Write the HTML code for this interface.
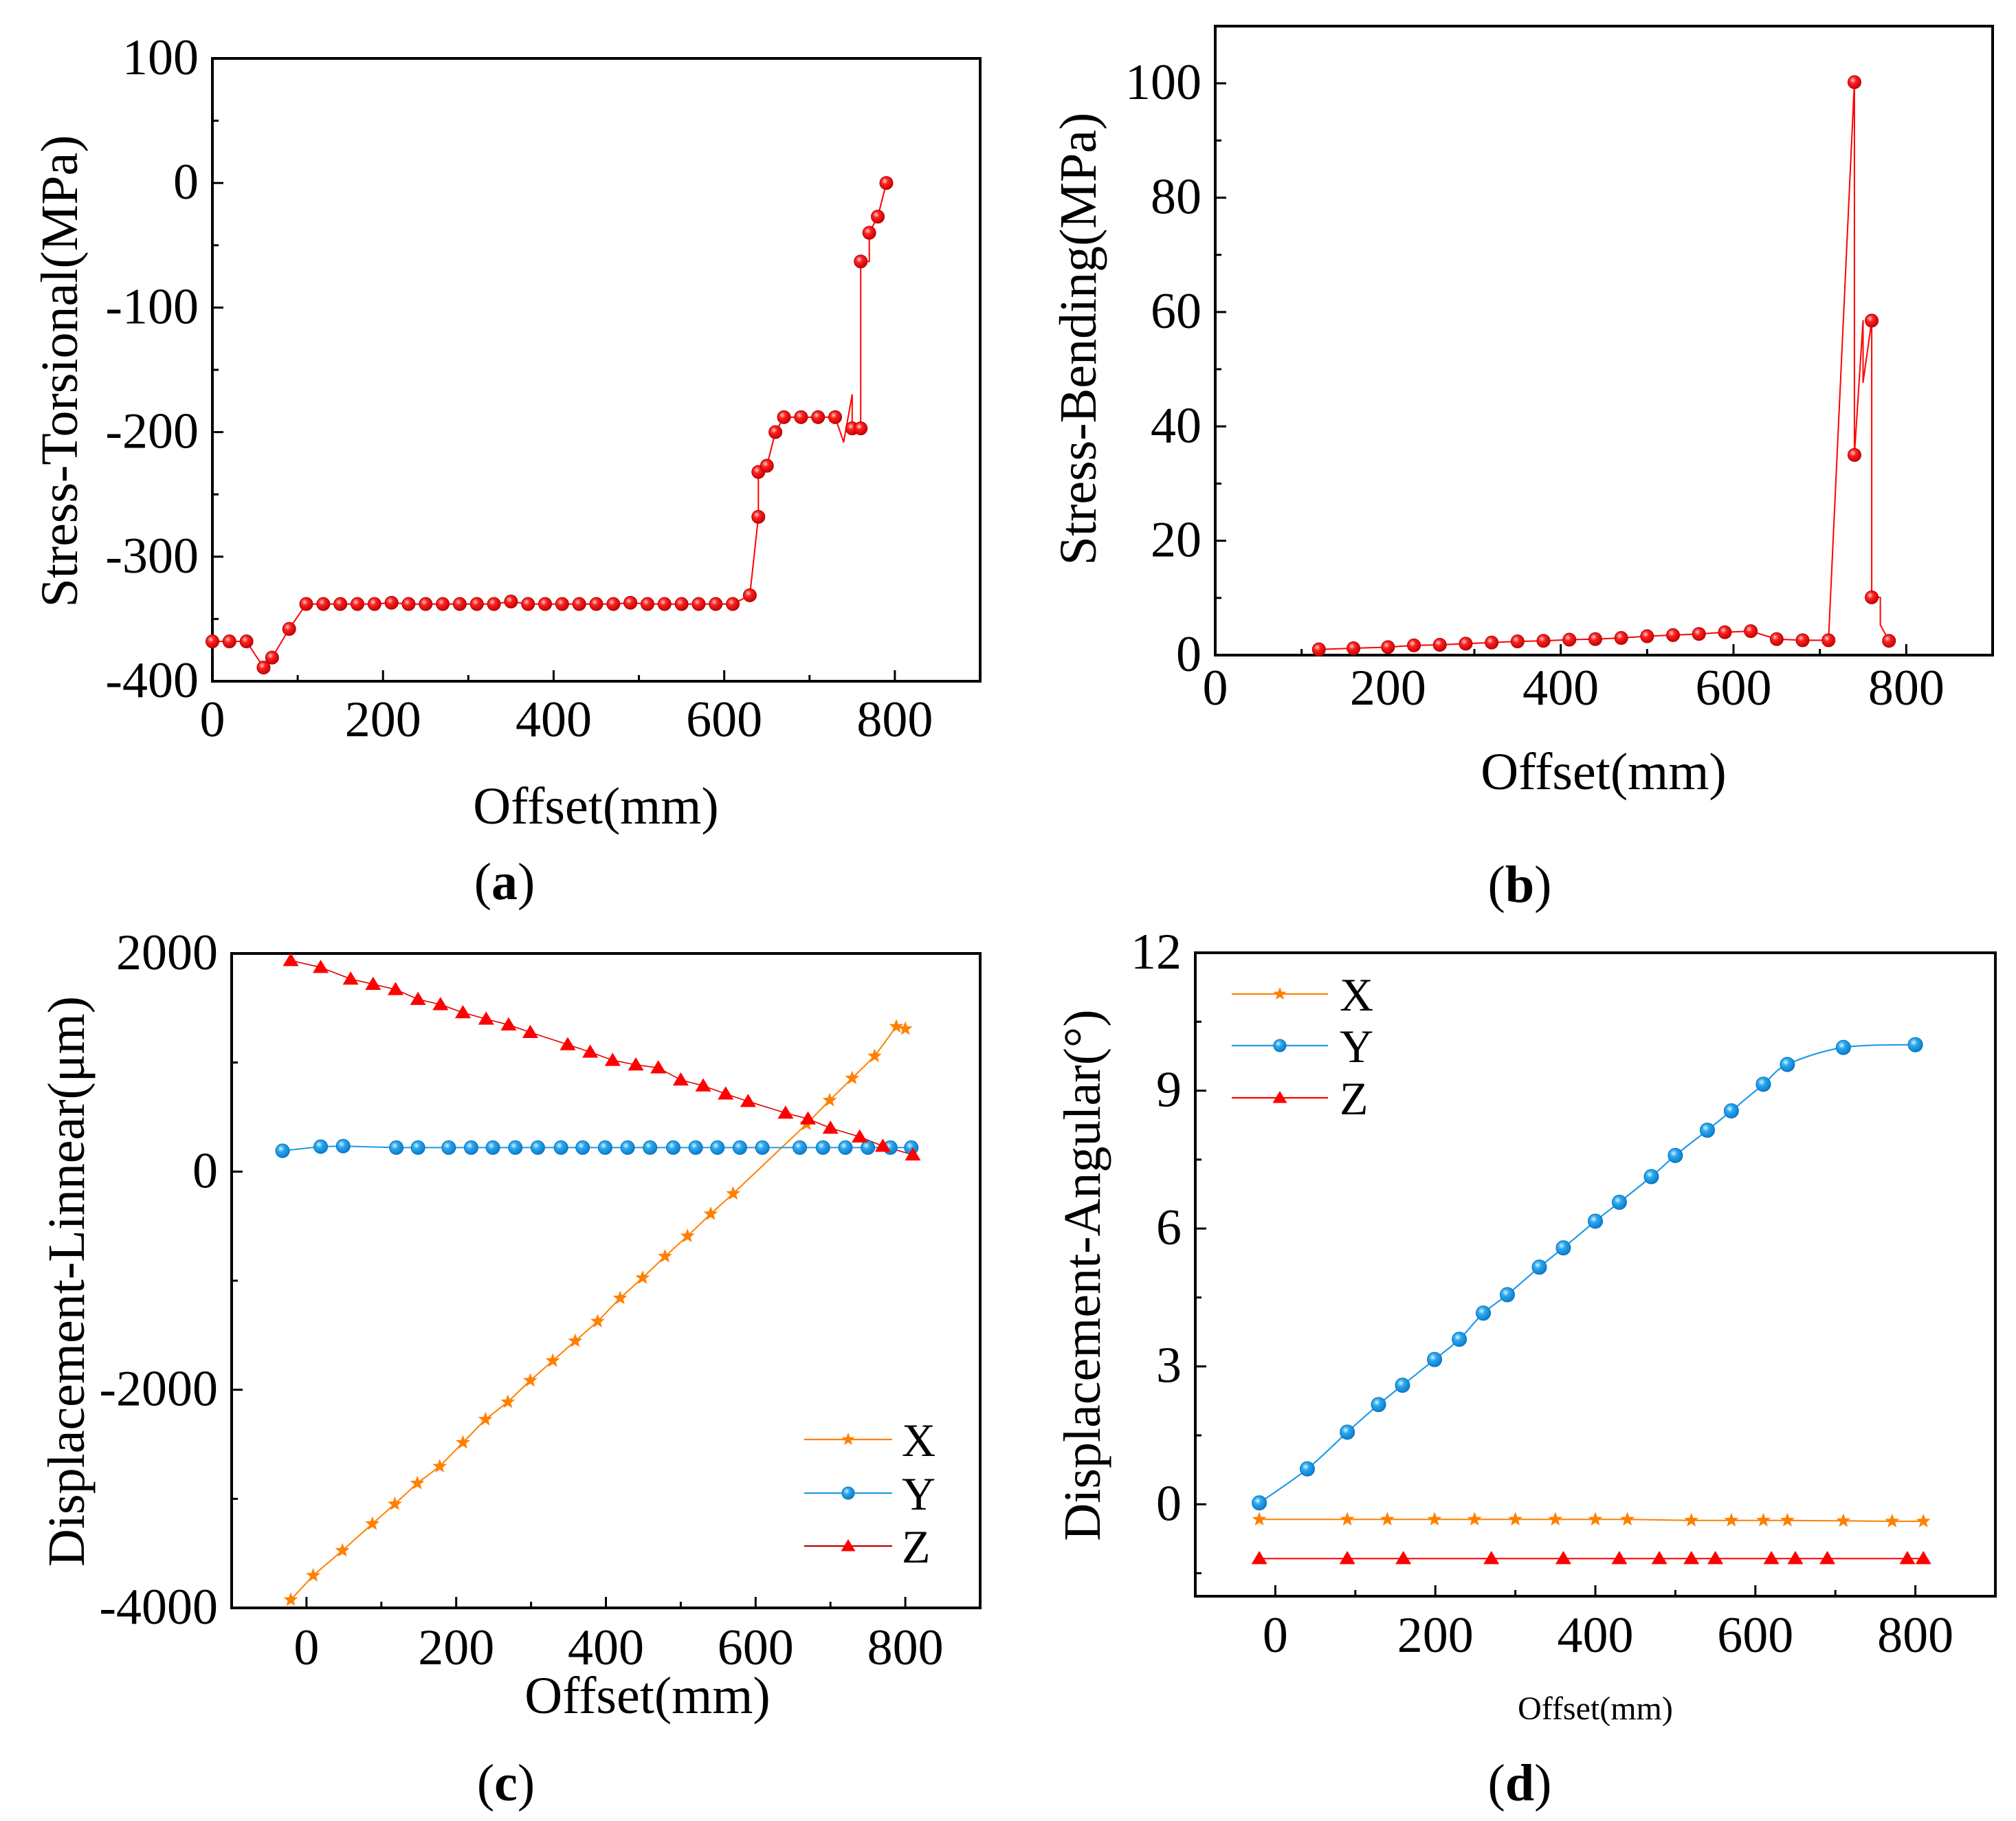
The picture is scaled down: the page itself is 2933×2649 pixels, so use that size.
<!DOCTYPE html>
<html><head><meta charset="utf-8"><style>
html,body{margin:0;padding:0;background:#fff;}
svg{display:block;font-family:"Liberation Serif",serif;}
</style></head><body>
<svg id="fig" width="2933" height="2649" viewBox="0 0 2933 2649" xmlns="http://www.w3.org/2000/svg">
<defs>
<radialGradient id="gRed" cx="0.38" cy="0.35" r="0.7"><stop offset="0" stop-color="#ffd0d0"/><stop offset="0.35" stop-color="#ff2020"/><stop offset="1" stop-color="#c00000"/></radialGradient>
<radialGradient id="gBlue" cx="0.38" cy="0.35" r="0.7"><stop offset="0" stop-color="#d8f2ff"/><stop offset="0.35" stop-color="#29a8f0"/><stop offset="1" stop-color="#0a78c8"/></radialGradient>
</defs>
</svg>
<script>
// ---------- Panel (a) data ----------
const aX = [0,20,40,60,70,90,110,130,150,170,190,210,230,250,270,290,310,330,350,370,390,410,430,450,470,490,510,530,550,570,590,610,630,640,640,650,660,670,690,710,730,740,750,750,760,760,770,770,780,790];
const aY = [-368,-368,-368,-389,-381,-358,-338,-338,-338,-338,-338,-337,-338,-338,-338,-338,-338,-338,-336,-338,-338,-338,-338,-338,-338,-337,-338,-338,-338,-338,-338,-338,-331,-268,-232,-227,-200,-188,-188,-188,-188,-208,-170,-197,-197,-63,-63,-40,-27,0];
const aMark = [1,1,1,1,1,1,1,1,1,1,1,1,1,1,1,1,1,1,1,1,1,1,1,1,1,1,1,1,1,1,1,1,1,1,1,1,1,1,1,1,1,0,0,1,1,1,0,1,1,1];
const aYTicks = [-400,-300,-200,-100,0,100];
const aXTicks = [0,200,400,600,800];
// ---------- Panel (b) data ----------
const bX = [120,160,200,230,260,290,320,350,380,410,440,470,500,530,560,590,620,650,680,710,740,740,750,750,760,760,770,770,780];
const bY = [1.0,1.2,1.4,1.7,1.8,2.0,2.2,2.4,2.5,2.7,2.8,3.0,3.3,3.5,3.7,4.0,4.2,2.8,2.6,2.6,100.2,35,58.5,47.7,58.5,10.1,10.1,5.3,2.5];
const bMark = [1,1,1,1,1,1,1,1,1,1,1,1,1,1,1,1,1,1,1,1,1,1,0,0,1,1,0,0,1];
const bYTicks = [0,20,40,60,80,100];
const bXTicks = [0,200,400,600,800];
// ---------- Panel (c) data ----------
const cXx = [-21,9,48,88,118,148,178,209,239,269,299,329,359,389,419,449,479,509,540,570,668,699,729,759,788,800];
const cXv = [-3926,-3703,-3474,-3229,-3048,-2857,-2703,-2484,-2272,-2112,-1915,-1734,-1553,-1373,-1160,-974,-777,-591,-388,-202,436,654,857,1059,1330,1309];
const cYx = [-32,19,49,120,149,190,220,249,279,309,340,369,399,429,459,490,520,549,579,609,659,690,720,750,780,808];
const cYv = [191,229,234,220,220,220,220,220,220,220,220,220,220,220,220,220,220,220,220,220,220,220,220,220,220,220];
const cZx = [-21,19,59,89,119,149,179,209,240,270,299,349,379,409,440,470,500,530,560,590,640,670,700,739,770,810];
const cZv = [1936,1873,1766,1718,1670,1580,1532,1458,1399,1346,1277,1165,1096,1021,979,952,841,787,713,644,537,484,399,319,234,154];
const cYTicks = [-4000,-2000,0,2000];
const cXTicks = [0,200,400,600,800];
// ---------- Panel (d) data ----------
const dXx = [-20,90,140,199,249,300,350,400,440,520,570,610,640,710,771,810];
const dXv = [-0.33,-0.33,-0.33,-0.33,-0.33,-0.33,-0.33,-0.33,-0.33,-0.35,-0.35,-0.35,-0.35,-0.36,-0.37,-0.37];
const dYx = [-20,40,90,129,159,199,230,260,290,330,360,400,430,470,500,540,570,610,640,710,800];
const dYv = [0.03,0.77,1.57,2.17,2.59,3.15,3.59,4.16,4.56,5.16,5.58,6.16,6.57,7.13,7.59,8.14,8.56,9.14,9.57,9.94,10.0];
const dZx = [-20,90,160,270,360,430,480,520,550,620,650,690,790,810];
const dZv = [-1.18,-1.18,-1.18,-1.18,-1.18,-1.18,-1.18,-1.18,-1.18,-1.18,-1.18,-1.18,-1.18,-1.18];
const dYTicks = [0,3,6,9,12];
const dXTicks = [0,200,400,600,800];

const NS = "http://www.w3.org/2000/svg";
const svg = document.getElementById('fig');
function mk(tag, attrs, parent){
  const e = document.createElementNS(NS, tag);
  for (const k in attrs) e.setAttribute(k, attrs[k]);
  (parent||svg).appendChild(e);
  return e;
}
function scale(d0,d1,r0,r1){ return v => r0 + (v-d0)*(r1-r0)/(d1-d0); }

function axes(P){
  const g = mk('g',{});
  
  
  const sx = scale(P.xd[0],P.xd[1],P.L,P.R), sy = scale(P.yd[0],P.yd[1],P.B,P.T);
  P.yTicks.forEach((v,i)=>{
    const y = sy(v);
    mk('line',{x1:P.L,x2:P.L+16,y1:y,y2:y,stroke:'#000','stroke-width':3},g);
    if (i < P.yTicks.length-1){
      const m = sy(v + (P.yTicks[1]-P.yTicks[0])/2);
      mk('line',{x1:P.L,x2:P.L+9,y1:m,y2:m,stroke:'#000','stroke-width':3},g);
    }
    const t = mk('text',{x:P.L-20,y:y+23,'text-anchor':'end','font-size':P.tfs||74},g);
    t.textContent = String(v);
    
    
  });
  if (P.yd[0] < P.yTicks[0]){ const m = sy(P.yTicks[0] - (P.yTicks[1]-P.yTicks[0])/2); if (m<P.B) mk('line',{x1:P.L,x2:P.L+9,y1:m,y2:m,stroke:'#000','stroke-width':3},g); }
  const step = P.xTicks[1]-P.xTicks[0];
  for (let v = P.xd[0]; v <= P.xd[1]; v += step/2){
    const x = sx(v); if (x<=P.L+2||x>=P.R-2) continue;
    const major = P.xTicks.includes(v);
    mk('line',{x1:x,x2:x,y1:P.B,y2:P.B-(major?16:9),stroke:'#000','stroke-width':3},g);
  }
  P.xTicks.forEach(v=>{
    const t = mk('text',{x:sx(v),y:P.xlY,'text-anchor':'middle','font-size':P.tfs||74},g);
    t.textContent = v;
    
    
  });
  const fr = mk('rect',{x:P.L,y:P.T,width:P.R-P.L,height:P.B-P.T,fill:'none',stroke:'#000','stroke-width':4});
  
  
  const xt = mk('text',{x:P.xtX,y:P.xtY,'text-anchor':'middle','font-size':P.xtFs||76});
  xt.textContent = 'Offset(mm)';
  
  
  const yt = mk('text',{x:0,y:0,'text-anchor':'middle','font-size':76,transform:`translate(${P.ytX},${P.ytY}) rotate(-90)`});
  yt.textContent = P.ytitle;
  
  
  const pl = mk('text',{x:P.plX,y:P.plY,'text-anchor':'middle','font-size':76});
  pl.innerHTML = '(<tspan font-weight="bold">'+P.letter+'</tspan>)';
  
  
  return {sx, sy};
}
function starPath(cx,cy,R){
  let d=''; const r=R*0.42;
  for(let i=0;i<10;i++){ const a=-Math.PI/2+i*Math.PI/5; const rr=i%2?r:R; d+=(i?'L':'M')+(cx+rr*Math.cos(a)).toFixed(1)+','+(cy+rr*Math.sin(a)).toFixed(1); }
  return d+'Z';
}
function marker(type,x,y,parent,sz){
  let e;
  if (type==='sphere-red') e = mk('circle',{cx:x,cy:y,r:sz||9.5,fill:'url(#gRed)',stroke:'#b00000','stroke-width':1},parent);
  else if (type==='sphere-blue') e = mk('circle',{cx:x,cy:y,r:sz||10,fill:'url(#gBlue)',stroke:'#0a70b8','stroke-width':1},parent);
  else if (type==='tri') { const s=sz||11; e = mk('path',{d:`M${x},${y-s}L${x+s*1.05},${y+s*0.75}L${x-s*1.05},${y+s*0.75}Z`,fill:'#ff0000'},parent); }
  else e = mk('path',{d:starPath(x,y,sz||11),fill:'#ff8000'},parent);
  return e;
}
function polyline(xs,ys,sx,sy,color,name,width){
  const pts = xs.map((v,i)=>sx(v).toFixed(1)+','+sy(ys[i]).toFixed(1)).join(' ');
  const e = mk('polyline',{points:pts,fill:'none',stroke:color,'stroke-width':width||2.2,'stroke-linejoin':'round'});
  
  
}
function smooth(xs,ys,sx,sy,color,name){
  const p = xs.map((v,i)=>[sx(v),sy(ys[i])]);
  let d = 'M'+p[0][0]+','+p[0][1];
  for(let i=0;i<p.length-1;i++){
    const p0=p[Math.max(0,i-1)],p1=p[i],p2=p[i+1],p3=p[Math.min(p.length-1,i+2)];
    const c1=[p1[0]+(p2[0]-p0[0])/6,p1[1]+(p2[1]-p0[1])/6], c2=[p2[0]-(p3[0]-p1[0])/6,p2[1]-(p3[1]-p1[1])/6];
    d+=`C${c1[0].toFixed(1)},${c1[1].toFixed(1)} ${c2[0].toFixed(1)},${c2[1].toFixed(1)} ${p2[0].toFixed(1)},${p2[1].toFixed(1)}`;
  }
  const e = mk('path',{d,fill:'none',stroke:color,'stroke-width':2.2});
  
  
}
function markers(xs,ys,sx,sy,type,name,mask,sz){
  const g = mk('g',{});
  
  
  xs.forEach((v,i)=>{ if(mask && !mask[i]) return; marker(type,sx(v),sy(ys[i]),g,sz); });
}
function legend(items,x0,x1,ys,lx,fs){
  const g = mk('g',{});
  
  
  items.forEach((it,i)=>{
    const e = mk('g',{},g);
    
    
    mk('line',{x1:x0,x2:x1,y1:ys[i],y2:ys[i],stroke:it.color,'stroke-width':2.2},e);
    marker(it.type,(x0+x1)/2,ys[i],e,it.sz);
    const t = mk('text',{x:lx,y:ys[i]+24,'font-size':fs},e);
    t.textContent = it.label;
  });
}

// Panel a
let A = axes({name:'panel-a',L:309,R:1426,T:85,B:991,xd:[0,900],yd:[-400,100],yTicks:aYTicks,xTicks:aXTicks,xlY:1071,xtX:867,xtY:1198,ytX:112,ytY:540,ytitle:'Stress-Torsional(MPa)',plX:734,plY:1308,letter:'a'});
polyline(aX,aY,A.sx,A.sy,'#ff0000','torsional-line',2);
markers(aX,aY,A.sx,A.sy,'sphere-red','torsional-points',aMark,9.5);
// Panel b
let Bp = axes({name:'panel-b',L:1768,R:2899,T:38,B:953,xd:[0,900],yd:[0,110],yTicks:bYTicks,xTicks:bXTicks,xlY:1025,xtX:2333,xtY:1148,ytX:1594,ytY:493,ytitle:'Stress-Bending(MPa)',plX:2211,plY:1312,letter:'b'});
polyline(bX,bY,Bp.sx,Bp.sy,'#ff0000','bending-line',2);
markers(bX,bY,Bp.sx,Bp.sy,'sphere-red','bending-points',bMark,9.5);
// Panel c
let C = axes({name:'panel-c',L:337,R:1426,T:1387,B:2339,xd:[-100,900],yd:[-4000,2000],yTicks:cYTicks,xTicks:cXTicks,xlY:2421,xtX:942,xtY:2492,ytX:122,ytY:1864,ytitle:'Displacement-Linnear(μm)',plX:736,plY:2619,letter:'c'});
polyline(cXx,cXv,C.sx,C.sy,'#ff8000','linear-x-line',2);
polyline(cYx,cYv,C.sx,C.sy,'#1e9be8','linear-y-line',2);
polyline(cZx,cZv,C.sx,C.sy,'#e00000','linear-z-line',1.6);
markers(cXx,cXv,C.sx,C.sy,'star','linear-x-points',null,11);
markers(cYx,cYv,C.sx,C.sy,'sphere-blue','linear-y-points',null,10);
markers(cZx,cZv,C.sx,C.sy,'tri','linear-z-points',null,11);
legend([{label:'X',color:'#ff8000',type:'star',sz:10},{label:'Y',color:'#1e9be8',type:'sphere-blue',sz:9},{label:'Z',color:'#c00000',type:'tri',sz:10}],1170,1298,[2094,2172,2249],1312,68);
// Panel d
let D = axes({name:'panel-d',L:1739,R:2903,T:1386,B:2322,xd:[-100,900],yd:[-2,12],yTicks:dYTicks,xTicks:dXTicks,xlY:2403,xtX:2321,xtY:2501,xtFs:48,ytX:1600,ytY:1855,ytitle:'Displacement-Angular(°)',plX:2211,plY:2619,letter:'d'});
polyline(dXx,dXv,D.sx,D.sy,'#ff8000','angular-x-line',2);
smooth(dYx,dYv,D.sx,D.sy,'#1e9be8','angular-y-line');
polyline(dZx,dZv,D.sx,D.sy,'#ff0000','angular-z-line',2);
markers(dXx,dXv,D.sx,D.sy,'star','angular-x-points',null,11);
markers(dYx,dYv,D.sx,D.sy,'sphere-blue','angular-y-points',null,10.5);
markers(dZx,dZv,D.sx,D.sy,'tri','angular-z-points',null,11);
legend([{label:'X',color:'#ff8000',type:'star',sz:10},{label:'Y',color:'#1e9be8',type:'sphere-blue',sz:9},{label:'Z',color:'#ff0000',type:'tri',sz:10}],1792,1932,[1446,1521,1597],1949,68);
</script>
</body></html>
